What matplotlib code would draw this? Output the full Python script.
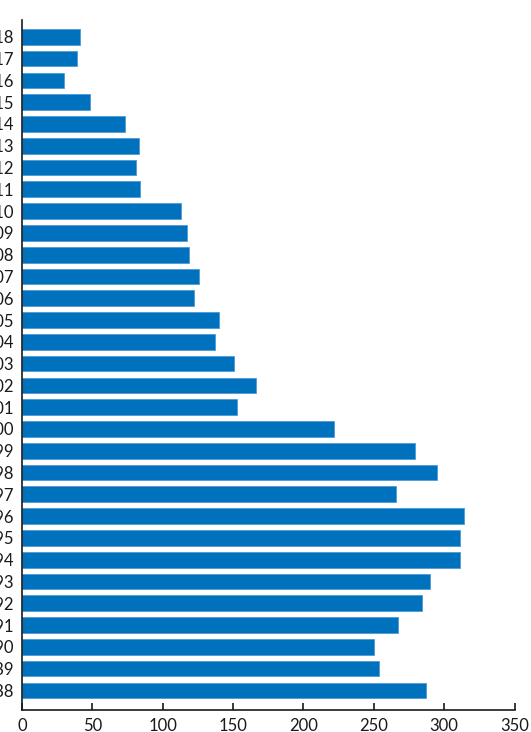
import matplotlib
matplotlib.use("Agg")
import matplotlib.pyplot as plt

# years, bottom to top
years = [str(y) for y in range(1988, 2019)]
values = [287, 254, 250, 267, 284, 290, 311, 311, 314, 266,
          295, 279, 222, 153, 166, 151, 137, 140, 122, 126,
          119, 117, 113, 84, 81, 83, 73, 48, 30, 39, 41]
x_ticks = [0, 50, 100, 150, 200, 250, 300, 350]

plt.rcParams['font.family'] = ['Lato', 'DejaVu Sans']

fig = plt.figure(figsize=(5.31, 7.32), dpi=100)
ax = fig.add_axes([22 / 531, 22 / 732, 492.5 / 531, 689.5 / 732])

pos = list(range(len(years)))
ax.barh(pos, values, height=0.72, color='#0072BD',
        edgecolor='#4d9ad6', linewidth=0.6)

ax.set_xlim(0, 350)
ax.set_ylim(-0.9, len(years) - 1 + 0.75)
ax.set_xticks(x_ticks)
ax.set_xticklabels([str(t) for t in x_ticks])
ax.set_yticks(pos)
ax.set_yticklabels(years)

for s in ['top', 'right']:
    ax.spines[s].set_visible(False)
for s in ['left', 'bottom']:
    ax.spines[s].set_linewidth(1.2)
    ax.spines[s].set_color('#1a1a1a')

ax.tick_params(axis='x', direction='in', length=5, width=1.2,
               labelsize=12, pad=6, colors='#1a1a1a')
ax.tick_params(axis='y', length=0, labelsize=12, pad=6, colors='#1a1a1a')

fig.savefig('out.png', dpi=100)
